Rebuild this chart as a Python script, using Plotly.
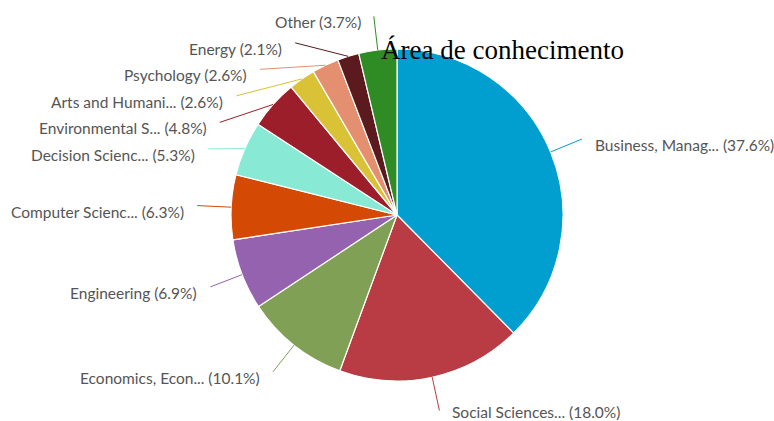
import math
import plotly.graph_objects as go

labels = ["Business, Manag...", "Social Sciences...", "Economics, Econ...", "Engineering",
          "Computer Scienc...", "Decision Scienc...", "Environmental S...", "Arts and Humani...",
          "Psychology", "Energy", "Other"]
values = [37.6, 18.0, 10.1, 6.9, 6.3, 5.3, 4.8, 2.6, 2.6, 2.1, 3.7]
colors = ["#009fcf", "#b93b43", "#80a055", "#9462ae", "#d44a05", "#88e9d5",
          "#9b1e2a", "#d9c236", "#e49070", "#5b1a1e", "#2f8b24"]
title_text = "Área de conhecimento"

W, H = 774, 421
CX, CY, R = 397, 215, 166
RL = 200        # connector end radius
GAP = 26.5      # min vertical spacing of labels
TOPLIM = 16

def px(x):
    return x / W

def py(y):
    return 1 - y / H

fig = go.Figure(go.Pie(
    labels=labels, values=values, sort=False, direction="clockwise", rotation=0,
    marker=dict(colors=colors, line=dict(color="white", width=1.2)),
    textinfo="none", hoverinfo="label+percent", showlegend=False,
    domain=dict(x=[px(CX - R), px(CX + R)], y=[py(CY + R), py(CY - R)]),
))

total = sum(values)
cum = 0
items = []
for lab, v, c in zip(labels, values, colors):
    mid = (cum + v / 2) / total * 2 * math.pi
    cum += v
    side = 1 if math.sin(mid) >= 0 else -1
    ex = CX + R * math.sin(mid)
    ey = CY - R * math.cos(mid)
    ideal = CY - RL * math.cos(mid)
    items.append(dict(lab=lab, v=v, c=c, side=side, ex=ex, ey=ey, y=ideal))

for s in (1, -1):
    grp = sorted([it for it in items if it["side"] == s], key=lambda it: it["y"])
    prev = None
    for it in grp:
        y = max(it["y"], TOPLIM)
        if prev is not None:
            y = max(y, prev + GAP)
        it["y"] = y
        prev = y

shapes = []
annotations = []
for it in items:
    dy = it["y"] - CY
    dx = math.sqrt(max(RL ** 2 - dy ** 2, 0))
    lx = CX + it["side"] * dx
    shapes.append(dict(type="line", xref="paper", yref="paper",
                       x0=px(it["ex"]), y0=py(it["ey"]), x1=px(lx), y1=py(it["y"]),
                       line=dict(color=it["c"], width=1)))
    ty = min(it["y"] + 6, H - 9)
    annotations.append(dict(
        xref="paper", yref="paper", x=px(lx + it["side"] * 11), y=py(ty),
        xanchor="left" if it["side"] > 0 else "right", yanchor="middle",
        text=f"{it['lab']} ({it['v']:.1f}%)", showarrow=False,
        font=dict(family="Lato", size=15.5, color="#555555")))

annotations.append(dict(xref="paper", yref="paper", x=px(379), y=py(50),
                        xanchor="left", yanchor="middle", text=title_text, showarrow=False,
                        font=dict(family="Liberation Serif", size=27, color="#000000")))

fig.update_layout(width=W, height=H, margin=dict(l=0, r=0, t=0, b=0),
                  paper_bgcolor="white", plot_bgcolor="white",
                  shapes=shapes, annotations=annotations)
fig.write_html("out.html")
